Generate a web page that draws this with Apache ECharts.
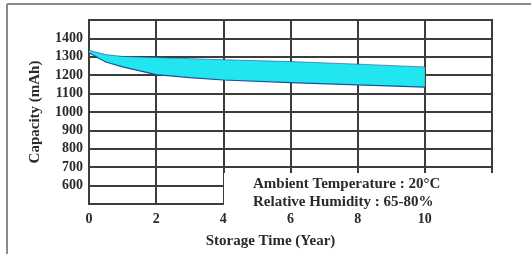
<!DOCTYPE html>
<html>
<head>
<meta charset="utf-8">
<script src="https://cdn.jsdelivr.net/npm/echarts@6/dist/echarts.min.js"></script>
<style>
  html, body { margin: 0; padding: 0; background: #fff; }
  #chart { width: 531px; height: 254px; }
</style>
</head>
<body>
<div id="chart"></div>
<script>
// Storage capacity band (mAh) vs storage time (years)
const years = [0, 0.5, 1, 2, 3, 4, 6, 8, 10];
const upperCap = [1335, 1312, 1302, 1296, 1290, 1284, 1274, 1260, 1245];
const lowerCap = [1322, 1272, 1245, 1203, 1187, 1174, 1160, 1147, 1135];
const xTicks = [0, 2, 4, 6, 8, 10];
const yTicks = [600, 700, 800, 900, 1000, 1100, 1200, 1300, 1400];
const notes = ['Ambient Temperature : 20\u00b0C', 'Relative Humidity : 65-80%'];

const serif = '"Liberation Serif", "Times New Roman", serif';
const ink = '#2a2a2a';
const gridCol = '#3c3c3c';
const bandFill = '#22e6ef';
const bandEdge = '#1d4f9c';

const chart = echarts.init(document.getElementById('chart'), null, { renderer: 'canvas' });

const bandData = years.map((x, i) => [x, lowerCap[i], upperCap[i]]);

chart.setOption({
    animation: false,
    backgroundColor: '#fff',
    grid: {
        left: 89, right: 39, top: 20, bottom: 45,
        show: true, borderColor: gridCol, borderWidth: 2
    },
    xAxis: {
        type: 'value', min: 0, max: 12, interval: 2,
        name: 'Storage Time (Year)', nameLocation: 'middle', nameGap: 30,
        nameTextStyle: { fontFamily: serif, fontWeight: 'bold', fontSize: 15, color: ink, padding: [0, 40, 0, 0] },
        axisLine: { show: false },
        axisTick: { show: false },
        axisLabel: {
            fontFamily: serif, fontWeight: 'bold', fontSize: 14, color: ink, margin: 8,
            formatter: v => xTicks.includes(v) ? String(v) : ''
        },
        splitLine: { show: true, lineStyle: { color: gridCol, width: 2 } }
    },
    yAxis: {
        type: 'value', min: 500, max: 1500, interval: 100,
        name: 'Capacity (mAh)', nameLocation: 'middle', nameGap: 46, nameRotate: 90,
        nameTextStyle: { fontFamily: serif, fontWeight: 'bold', fontSize: 15, color: ink, padding: [0, 0, 0, 0] },
        axisLine: { show: false },
        axisTick: { show: false },
        axisLabel: {
            fontFamily: serif, fontWeight: 'bold', fontSize: 14, color: ink, margin: 6,
            formatter: v => yTicks.includes(v) ? String(v) : ''
        },
        splitLine: { show: true, lineStyle: { color: gridCol, width: 2 } }
    },
    series: [
        {
            type: 'custom',
            data: bandData,
            z: 3,
            renderItem: (params, api) => {
                if (params.dataIndex !== 0) return null;
                const top = bandData.map(d => api.coord([d[0], d[2]]));
                const bottom = bandData.map(d => api.coord([d[0], d[1]])).reverse();
                return {
                    type: 'polygon',
                    shape: { points: top.concat(bottom) },
                    style: { fill: bandFill }
                };
            }
        },
        {
            type: 'line', z: 4, symbol: 'none', silent: true,
            data: years.map((x, i) => [x, upperCap[i]]),
            lineStyle: { color: bandEdge, width: 1, opacity: 0.6 }
        },
        {
            type: 'line', z: 4, symbol: 'none', silent: true,
            data: years.map((x, i) => [x, lowerCap[i]]),
            lineStyle: { color: bandEdge, width: 1.2 }
        }
    ],
    graphic: [
        // page frame
        { type: 'line', z: 50, shape: { x1: 7, y1: 4, x2: 531, y2: 4 }, style: { stroke: '#8a8a8a', lineWidth: 2 } },
        { type: 'line', z: 50, shape: { x1: 7, y1: 4, x2: 7, y2: 254 }, style: { stroke: '#8a8a8a', lineWidth: 2 } },
        // white note box over the lower-right grid
        { type: 'rect', z: 100, shape: { x: 224, y: 173, width: 285, height: 40 }, style: { fill: '#fff' } },
        {
            type: 'text', z: 101, left: 253, top: 177,
            style: { text: notes[0], font: 'bold 15px ' + serif, fill: ink }
        },
        {
            type: 'text', z: 101, left: 253, top: 195,
            style: { text: notes[1], font: 'bold 15px ' + serif, fill: ink }
        }
    ]
});
</script>
</body>
</html>
